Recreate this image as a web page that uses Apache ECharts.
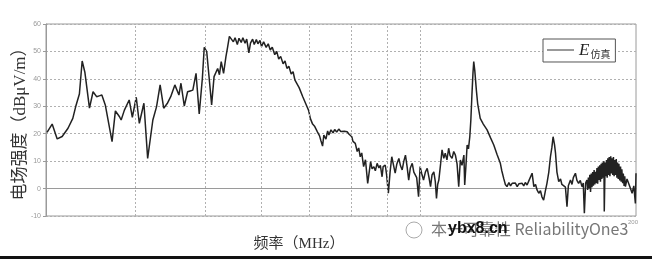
<!DOCTYPE html>
<html><head><meta charset="utf-8">
<script src="https://cdn.jsdelivr.net/npm/echarts@6/dist/echarts.min.js"></script>
<style>html,body{margin:0;padding:0;background:#fff}#c{width:652px;height:259px}</style>
</head><body><div id="c"></div>
<script>
// Frequency (MHz, log axis) and simulated field strength (dBμV/m)
const freqMHz = [
30.1,30.6,31.1,31.6,32.2,32.7,33.0,33.4,33.7,34.0,34.5,34.9,35.3,35.6,35.9,36.3,37.1,37.5,38.0,
38.2,38.6,39.2,39.6,40.1,40.5,41.1,41.6,42.3,42.8,43.3,43.8,44.3,44.8,45.4,46.0,46.3,46.8,47.3,47.7,48.1,48.6,49.1,49.6,49.9,50.3,51.1,51.5,52.1,52.4,52.7,53.1,53.5,53.8,54.1,
54.4,54.8,55.1,55.5,55.8,56.2,56.5,56.9,57.2,57.6,57.9,58.3,58.6,59.0,59.3,59.7,60.0,60.4,60.9,61.3,61.7,62.1,62.6,63.0,63.4,63.8,64.3,64.7,65.1,65.5,66.0,66.4,66.8,67.2,67.7,68.1,68.5,68.9,69.4,69.8,70.2,70.7,71.2,71.8,72.3,72.6,73.0,73.3,73.8,74.2,74.5,75.0,75.5,75.9,76.4,76.9,77.4,77.8,78.3,79.0,79.5,80.2,80.5,81.1,81.6,82.0,82.4,82.8,83.3,83.8,84.4,
85.2,85.6,86.1,86.5,87.0,87.5,87.9,88.4,88.7,89.3,89.7,90.2,90.7,91.2,91.8,92.2,92.7,93.3,93.8,94.3,94.8,95.3,95.8,96.3,96.8,97.4,97.9,98.4,98.8,99.4,99.9,100.4,101.0,101.6,102.2,102.8,103.3,103.8,104.4,104.9,105.3,105.7,106.1,106.7,107.2,107.8,108.3,108.9,109.5,110.0,110.7,111.3,111.9,112.5,113.1,113.7,114.3,115.0,115.3,115.8,116.2,116.7,117.2,117.6,118.0,118.4,118.7,119.1,119.7,120.2,121.2,122.4,123.9,125.3,126.6,127.9,129.3,129.9,130.7,131.4,132.1,132.9,133.6,134.3,135.1,135.7,136.5,137.3,137.9,138.7,139.4,140.1,140.9,141.7,142.4,143.2,144.0,144.8,145.5,146.3,147.1,147.8,148.6,149.4,150.2,151.1,151.9,152.6,153.2,153.9,154.4,155.1,156.0,156.9,157.6,158.5,159.4,160.2,160.9,162.0,162.8,163.5,164.6,165.4,166.3,167.2,168.1,168.8,169.4,170.1,170.8,
171.2,171.6,172.0,172.4,172.8,173.2,173.6,174.0,174.4,174.8,175.2,175.6,176.0,176.4,176.8,177.2,177.6,178.0,178.4,178.8,179.2,179.5,179.9,180.4,180.6,181.1,181.5,181.9,182.3,182.7,183.1,183.5,183.9,184.4,184.8,185.2,185.6,186.0,186.4,186.8,187.2,187.7,188.1,188.5,188.9,189.3,189.8,190.3,190.7,191.1,191.6,192.0,192.5,192.9,193.3,194.3,195.4,196.5,197.5,198.6,199.6,200.0
];
const fieldDb = [
20.5,23.5,18.1,19.0,22.0,25.6,29.8,34.5,46.5,42.3,29.3,35.3,33.5,33.8,34.1,30.5,17.1,28.3,26.2,
25.0,28.6,32.3,26.0,33.3,23.8,31.1,11.0,25.0,29.8,37.8,29.3,31.0,33.5,37.8,34.1,38.4,30.1,35.3,35.6,35.9,42.0,27.2,40.2,51.5,49.9,30.5,40.8,43.8,41.5,46.3,42.0,48.0,51.7,55.5,
56.2,53.5,55.0,52.5,54.8,53.3,55.0,53.0,54.5,49.5,53.0,54.5,52.5,54.3,52.8,54.0,51.8,53.5,51.5,52.8,50.5,51.5,48.8,50.0,47.2,48.2,45.5,46.5,43.8,44.6,41.8,42.6,39.5,40.2,36.8,37.5,33.5,33.8,30.0,28.5,25.5,23.5,22.6,20.7,19.2,17.5,15.5,19.5,18.0,21.0,19.5,21.4,20.3,21.5,20.6,21.7,20.8,21.4,20.9,20.7,19.8,18.9,17.2,16.5,13.5,14.8,11.6,13.0,8.0,10.5,1.9,
9.8,7.2,8.0,6.5,9.2,7.5,8.5,4.3,8.0,8.6,5.0,-1.7,6.0,11.6,8.0,5.6,9.0,11.0,8.3,6.8,10.0,12.2,8.0,3.1,7.5,9.2,6.0,6.1,4.0,-3.0,8.0,5.5,3.1,6.0,7.4,4.0,0.7,5.0,6.1,2.5,-3.6,1.5,3.1,9.0,14.1,11.0,12.9,10.5,14.7,12.0,11.0,13.5,12.2,9.0,0.7,10.4,8.5,12.2,1.3,9.0,15.9,14.5,18.9,25.0,34.0,42.0,46.3,43.0,35.9,31.0,25.6,23.5,21.4,18.5,15.9,12.5,9.2,6.5,3.7,1.5,0.7,2.2,1.0,1.9,1.2,2.0,0.7,1.8,1.3,1.9,1.0,2.2,1.3,2.8,3.5,5.6,0.7,1.5,-0.5,-1.7,-0.8,-3.0,-4.2,-1.0,1.9,6.0,11.6,15.0,18.9,16.0,12.9,6.0,2.5,3.5,1.5,1.9,0.5,-6.6,1.0,3.1,1.5,4.0,5.6,3.0,1.9,3.0,0.7,2.0,-9.0,2.0,3.1,
-0.5,4.0,0.0,5.0,-1.2,5.5,0.5,6.0,1.0,6.8,1.5,6.1,2.0,7.5,1.8,8.0,3.1,8.5,2.5,9.0,3.5,9.5,4.0,10.0,-8.4,9.5,4.5,10.4,4.0,11.0,5.0,11.5,4.5,11.8,5.5,11.0,5.0,11.5,4.5,10.4,5.0,10.8,4.0,9.5,3.5,9.0,3.0,8.0,2.5,7.0,2.0,5.5,1.0,4.5,0.7,3.5,3.1,0.0,-1.7,1.0,-5.4,5.6
];
const gridFreqs = [40, 50, 60, 70, 80, 90, 100];
const xMin = 30, xMax = 200;
const yMin = -10, yMax = 60, yStep = 10;
const seriesName = 'E仿真';

const serif = "'Liberation Serif','Noto Sans CJK SC',serif";
const chart = echarts.init(document.getElementById('c'), null, {renderer: 'canvas'});
chart.setOption({
  animation: false,
  backgroundColor: '#fff',
  grid: {left: 46, right: 16, top: 24, bottom: 43, outerBoundsMode: 'none', containLabel: false,
    show: true, borderColor: '#9a9a9a', borderWidth: 1, backgroundColor: 'transparent'},
  legend: {
    show: true, left: 543, top: 39, orient: 'horizontal',
    backgroundColor: '#fff', borderColor: '#555', borderWidth: 1, borderRadius: 0,
    padding: [3, 5, 3, 4], itemWidth: 27, itemHeight: 1, icon: 'rect', itemGap: 2,
    formatter: () => '{e|E}{s|仿真}',
    textStyle: {rich: {
      e: {fontFamily: serif, fontStyle: 'italic', fontSize: 17, color: '#222', verticalAlign: 'bottom', lineHeight: 18},
      s: {fontFamily: "'Noto Sans CJK SC'", fontSize: 10, color: '#333', verticalAlign: 'bottom', lineHeight: 12, padding: [6, 0, 0, 1]}
    }},
    data: [{name: seriesName, itemStyle: {color: '#333'}}]
  },
  xAxis: {
    type: 'log', logBase: 10, min: xMin, max: xMax,
    axisLine: {show: true, lineStyle: {color: '#9a9a9a', width: 1}},
    axisTick: {show: false}, axisLabel: {show: false}, splitLine: {show: false},
    name: '频率（MHz）', nameLocation: 'middle', nameGap: 21,
    nameTextStyle: {fontFamily: serif, fontSize: 15, color: '#333', padding: [0, 84, 0, 0]}
  },
  yAxis: {
    type: 'value', min: yMin, max: yMax, interval: yStep,
    axisLine: {show: true, lineStyle: {color: '#9a9a9a', width: 1}},
    axisTick: {show: true, length: 3, lineStyle: {color: '#9a9a9a'}},
    axisLabel: {fontSize: 7, color: '#999', margin: 5, fontFamily: 'Liberation Sans'},
    splitLine: {show: true, lineStyle: {color: '#b0b0b0', type: [2, 2], width: 1}},
    name: '电场强度（dBμV/m）', nameLocation: 'middle', nameGap: 17, nameRotate: 90,
    nameMoveOverlap: false,
    nameTextStyle: {fontFamily: serif, fontSize: 17, color: '#333'}
  },
  series: [{
    name: seriesName, type: 'line', symbol: 'none', showSymbol: false,
    data: freqMHz.map((f, i) => [f, fieldDb[i]]),
    lineStyle: {color: '#222', width: 1.5}, itemStyle: {color: '#333'},
    clip: true,
    markLine: {
      silent: true, symbol: 'none', label: {show: false},
      lineStyle: {color: '#b0b0b0', type: [2, 2], width: 1},
      data: gridFreqs.map(v => ({xAxis: v}))
    }
  }],
  graphic: [
    {type: 'text', right: 14, top: 219, style: {text: String(xMax), fontSize: 6, fill: '#999', fontFamily: 'Liberation Sans'}, z: 10},
    {type: 'circle', shape: {cx: 414, cy: 230, r: 8}, style: {fill: 'none', stroke: '#aaa', lineWidth: 1}, z: 10},
    {type: 'text', left: 431, top: 221, style: {text: '本一可靠性 ReliabilityOne3', fontSize: 16, fill: '#777', fontFamily: "'Noto Sans CJK SC'"}, z: 10},
    {type: 'text', left: 448, top: 221, style: {text: 'ybx8.cn', fontSize: 16, fontWeight: 'bold', fill: '#111', fontFamily: 'Liberation Sans'}, z: 11},
    {type: 'rect', shape: {x: 0, y: 256, width: 652, height: 3}, style: {fill: '#111'}, z: 10}
  ]
});
</script></body></html>
